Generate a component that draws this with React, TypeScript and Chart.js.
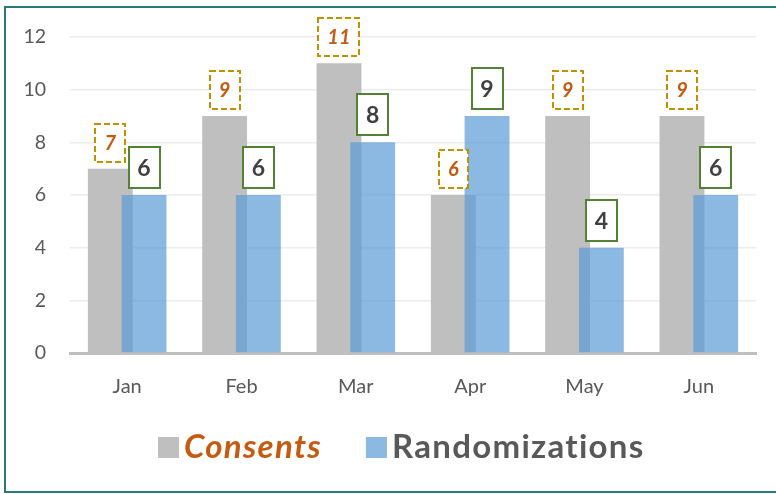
import React, { useEffect, useRef } from "react";
import { Chart, registerables } from "chart.js";

Chart.register(...registerables);

const categories = ["Jan", "Feb", "Mar", "Apr", "May", "Jun"];
const consents = [7, 9, 11, 6, 9, 9];
const randomizations = [6, 6, 8, 9, 4, 6];
const yTicks = [0, 2, 4, 6, 8, 10, 12];
const seriesNames = ["Consents", "Randomizations"];

const FONT = "Lato, 'Open Sans', sans-serif";
const GREY = "#BFBFBF";
const BLUE = "rgba(91,155,213,0.7)";
const ORANGE = "#C55A11";
const GOLD = "#BF9000";
const GREEN = "#548235";
const DARK = "#404040";
const TICK = "#595959";

// Chart.js paints datasets last-to-first; paint the second series after the first
// so the translucent blue bars overlap the grey ones.
const overlapOrderPlugin = {
  id: "overlapOrder",
  beforeDatasetDraw(chart: any, args: any) {
    if (args.index === 1 && !chart.$drawingSecond) return false;
    return true;
  },
  afterDatasetsDraw(chart: any) {
    const meta = chart.getDatasetMeta(1);
    if (!meta || meta.hidden) return;
    chart.$drawingSecond = true;
    const ctx = chart.ctx;
    ctx.save();
    meta.controller.draw();
    ctx.restore();
    chart.$drawingSecond = false;
  },
};

const boxLabelPlugin = {
  id: "boxLabels",
  afterDatasetsDraw(chart: any) {
    const ctx = chart.ctx;
    chart.data.datasets.forEach((ds: any, di: number) => {
      const meta = chart.getDatasetMeta(di);
      const st =
        di === 0
          ? { font: `italic bold 20px ${FONT}`, color: ORANGE, border: GOLD, dash: [6, 3], h: 38 }
          : { font: `bold 23px ${FONT}`, color: DARK, border: GREEN, dash: [] as number[], h: 41 };
      meta.data.forEach((el: any, i: number) => {
        const text = String(ds.data[i]);
        ctx.save();
        ctx.font = st.font;
        const tw = ctx.measureText(text).width;
        const w = Math.round(tw + 18);
        const h = st.h;
        const cx = el.x;
        const bottom = el.y - 7;
        const x0 = Math.round(cx - w / 2);
        const y0 = Math.round(bottom - h);
        ctx.fillStyle = "#ffffff";
        ctx.fillRect(x0, y0, w, h);
        ctx.setLineDash(st.dash);
        ctx.lineWidth = 2;
        ctx.strokeStyle = st.border;
        ctx.strokeRect(x0, y0, w, h);
        ctx.setLineDash([]);
        ctx.fillStyle = st.color;
        ctx.textAlign = "center";
        ctx.textBaseline = "middle";
        ctx.fillText(text, cx, y0 + h / 2 + 1);
        ctx.restore();
      });
    });
  },
};

const legendPlugin = {
  id: "customLegend",
  afterDraw(chart: any) {
    const ctx = chart.ctx;
    const items = [
      { text: seriesNames[0], box: GREY, font: `italic bold 33px ${FONT}`, color: ORANGE },
      { text: seriesNames[1], box: BLUE, font: `bold 33px ${FONT}`, color: TICK },
    ];
    const sq = 21;
    const gapText = 5;
    const gapItems = 44;
    ctx.save();
    (ctx as any).letterSpacing = "1.3px";
    const widths = items.map((it) => {
      ctx.font = it.font;
      return ctx.measureText(it.text).width;
    });
    const total = widths.reduce((a, w) => a + sq + gapText + w, 0) + gapItems * (items.length - 1);
    let x = Math.round(401 - total / 2);
    const sqTop = 437;
    const baseline = 458;
    items.forEach((it, i) => {
      ctx.fillStyle = it.box;
      ctx.fillRect(x, sqTop, sq, sq);
      x += sq + gapText;
      ctx.font = it.font;
      ctx.fillStyle = it.color;
      ctx.textAlign = "left";
      ctx.textBaseline = "alphabetic";
      ctx.fillText(it.text, x, baseline);
      x += widths[i] + gapItems;
    });
    ctx.restore();
  },
};

export default function App() {
  const canvasRef = useRef<HTMLCanvasElement | null>(null);

  useEffect(() => {
    if (!canvasRef.current) return;
    const chart = new Chart(canvasRef.current, {
      type: "bar",
      data: {
        labels: categories,
        datasets: [
          {
            label: seriesNames[0],
            data: consents,
            backgroundColor: GREY,
            borderWidth: 0,
            categoryPercentage: 0.59,
            barPercentage: 1.33,
          },
          {
            label: seriesNames[1],
            data: randomizations,
            backgroundColor: BLUE,
            borderWidth: 0,
            categoryPercentage: 0.59,
            barPercentage: 1.33,
          },
        ],
      },
      options: {
        responsive: false,
        animation: false,
        layout: { padding: { left: 0, right: 20, top: 37, bottom: 0 } },
        plugins: {
          legend: { display: false },
          tooltip: { enabled: false },
        },
        scales: {
          x: {
            grid: { display: false, drawTicks: false },
            border: { display: true, color: GREY, width: 3 },
            ticks: { color: TICK, font: { family: FONT, size: 20 }, padding: 22 },
            afterFit: (s: any) => {
              s.height = 141;
            },
          },
          y: {
            min: 0,
            max: 12,
            grid: { color: "#ECECEC", lineWidth: 1.5, drawTicks: false },
            border: { display: false },
            ticks: { color: TICK, font: { family: FONT, size: 19.5 }, padding: 24 },
            afterBuildTicks: (s: any) => {
              s.ticks = yTicks.map((v) => ({ value: v }));
            },
            afterFit: (s: any) => {
              s.width = 70;
            },
          },
        },
      },
      plugins: [overlapOrderPlugin, boxLabelPlugin, legendPlugin],
    });
    return () => chart.destroy();
  }, []);

  return (
    <div
      style={{
        position: "fixed",
        left: 0,
        top: 0,
        width: 776,
        height: 494,
        overflow: "hidden",
        background: "#ffffff",
      }}
    >
      <canvas ref={canvasRef} width={776} height={494} style={{ position: "absolute", left: 0, top: 0 }} />
      <div
        style={{
          position: "absolute",
          left: 4,
          top: 6,
          width: 800,
          height: 487,
          boxSizing: "border-box",
          border: "2px solid #2B7A78",
          pointerEvents: "none",
        }}
      />
    </div>
  );
}
